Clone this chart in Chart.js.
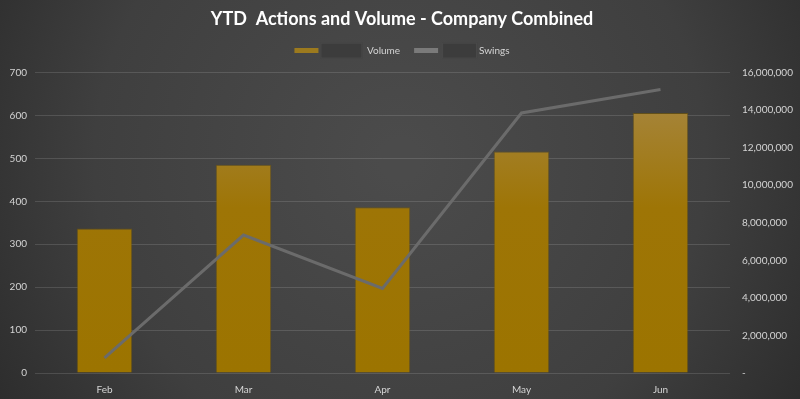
<!DOCTYPE html>
<html>
<head>
<meta charset="utf-8">
<script src="https://cdn.jsdelivr.net/npm/chart.js@4"></script>
<style>
  html, body { margin: 0; padding: 0; background: #333; }
  #wrap { width: 800px; height: 399px; }
</style>
</head>
<body>
<div id="wrap"><canvas id="chart"></canvas></div>
<script>
    "use strict";

    // Data
    var months = ["Feb", "Mar", "Apr", "May", "Jun"];
    var volume = [337, 485, 386, 516, 606];
    var swings = [800000, 7350000, 4500000, 13850000, 15100000];
    var leftTicks = [0, 100, 200, 300, 400, 500, 600, 700];
    var rightTicks = [0, 2000000, 4000000, 6000000, 8000000, 10000000, 12000000, 14000000, 16000000];

    var tickColor = "#d4d4d4";
    var fontFamily = "Lato, 'Open Sans', sans-serif";

    // Background
    var bgPlugin = {
        id: "bg",
        beforeDraw: function (chart) {
            var c = chart.ctx, w = chart.width, h = chart.height;
            var g = c.createRadialGradient(w / 2, h * 0.4, 20, w / 2, h * 0.4, w * 0.62);
            g.addColorStop(0, "#4b4b4b");
            g.addColorStop(0.6, "#3f3f3f");
            g.addColorStop(1, "#2a2a2a");
            c.save();
            c.fillStyle = g;
            c.fillRect(0, 0, w, h);
            c.restore();
        }
    };

    // extra room under the legend
    var legendGap = {
        id: "legendGap",
        beforeLayout: function (chart) {
            var lg = chart.legend;
            if (!lg || lg._gapped) return;
            var fit = lg.fit;
            lg.fit = function () {
                fit.call(this);
                this.height += 7;
            };
            lg._gapped = true;
        }
    };

    // Redaction boxes in legend
    var maskPlugin = {
        id: "mask",
        afterDraw: function (chart) {
            var boxes = chart.legend.legendHitBoxes;
            if (!boxes) return;
            var c = chart.ctx;
            c.save();
            var offs = [26, 28];
            var widths = [42, 35];
            boxes.forEach(function (b, i) {
                var x = b.left + offs[i];
                c.fillStyle = "#3c3c3c";
                c.fillRect(x, b.top - 3, widths[i], b.height + 6);
                c.strokeStyle = "#4a4a4a";
                c.lineWidth = 1;
                c.strokeRect(x + 0.5, b.top - 2.5, widths[i] - 1, b.height + 5);
            });
            c.restore();
        }
    };

    var ctx = document.getElementById("chart").getContext("2d");

    var barGrad = function (context) {
        var area = context.chart.chartArea;
        if (!area) return "#9c7400";
        var g = context.chart.ctx.createLinearGradient(0, area.top, 0, area.bottom);
        g.addColorStop(0, "#a8894a");
        g.addColorStop(0.45, "#9e7506");
        g.addColorStop(1, "#9c7400");
        return g;
    };

    var pads = ["                 ", "              "];

    var myChart = new Chart(ctx, {
        type: "bar",
        data: {
            labels: months,
            datasets: [
                {
                    label: "Volume",
                    data: volume,
                    backgroundColor: barGrad,
                    borderColor: "rgba(120, 90, 0, .6)",
                    borderWidth: 1,
                    barPercentage: 0.4,
                    categoryPercentage: 1,
                    yAxisID: "y",
                    order: 2
                },
                {
                    label: "Swings",
                    type: "line",
                    data: swings,
                    borderColor: "#6b6b6b",
                    backgroundColor: "#6b6b6b",
                    borderWidth: 3,
                    pointRadius: 0,
                    tension: 0,
                    yAxisID: "y1",
                    order: 1
                }
            ]
        },
        options: {
            responsive: true,
            maintainAspectRatio: false,
            animation: false,
            layout: { padding: { left: 4, right: 0, top: 4, bottom: 0 } },
            plugins: {
                title: {
                    display: true,
                    text: "YTD  Actions and Volume - Company Combined",
                    color: "#ffffff",
                    font: { family: fontFamily, size: 18, weight: "bold" },
                    padding: { top: 4, bottom: 2 }
                },
                legend: {
                    display: true,
                    labels: {
                        color: tickColor,
                        font: { family: fontFamily, size: 10 },
                        boxWidth: 24,
                        boxHeight: 5,
                        padding: 14,
                        generateLabels: function (chart) {
                            return chart.data.datasets.map(function (ds, i) {
                                var col = i === 0 ? "#9c7a1e" : "#7a7a7a";
                                return {
                                    text: pads[i] + ds.label,
                                    fillStyle: col,
                                    strokeStyle: col,
                                    lineWidth: 0,
                                    fontColor: tickColor,
                                    datasetIndex: i
                                };
                            });
                        }
                    }
                },
                tooltip: { enabled: false }
            },
            scales: {
                x: {
                    grid: { display: false },
                    border: { display: false },
                    ticks: { color: tickColor, font: { family: fontFamily, size: 10 } }
                },
                y: {
                    position: "left",
                    min: 0,
                    max: 700,
                    afterBuildTicks: function (axis) {
                        axis.ticks = leftTicks.map(function (v) { return { value: v }; });
                    },
                    afterFit: function (axis) { axis.width = 31; },
                    grid: { color: "rgba(255, 255, 255, .13)", drawTicks: false },
                    border: { display: false },
                    ticks: { color: tickColor, padding: 8, font: { family: fontFamily, size: 10 } }
                },
                y1: {
                    position: "right",
                    min: 0,
                    max: 16000000,
                    afterBuildTicks: function (axis) {
                        axis.ticks = rightTicks.map(function (v) { return { value: v }; });
                    },
                    afterFit: function (axis) { axis.width = 70; },
                    grid: { display: false, drawTicks: false },
                    border: { display: false },
                    ticks: {
                        color: tickColor,
                        padding: 12,
                        font: { family: fontFamily, size: 10 },
                        callback: function (v) {
                            return v === 0 ? "-" : v.toLocaleString("en-US");
                        }
                    }
                }
            }
        },
        plugins: [bgPlugin, legendGap, maskPlugin]
    });
</script>
</body>
</html>
